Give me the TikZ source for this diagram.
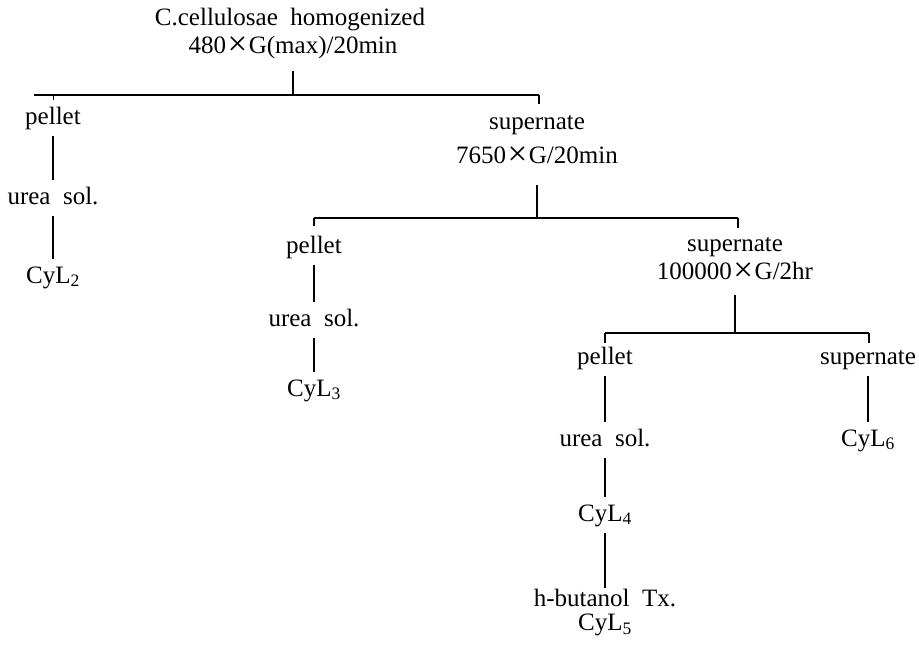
\documentclass[tikz,border=0pt]{standalone}
\usepackage{fontspec}
\usepackage{graphicx}
\setmainfont{Liberation Serif}
\newcommand{\bigx}{\hspace{0.06em}\raisebox{-0.1em}{\scalebox{1.4}{×}}\hspace{0.06em}}
\begin{document}
\begin{tikzpicture}[x=1pt,y=-1pt,
  lbl/.style={font=\fontsize{25}{30}\selectfont, inner xsep=0pt, inner ysep=7pt, text height=17pt, text depth=5pt},
  lbl2/.style={font=\fontsize{25}{24}\selectfont, inner xsep=0pt, inner ysep=1pt, align=center, anchor=north},
  ln/.style={line width=1.6pt, line cap=butt},
  bar/.style={line width=1.8pt}]
\useasboundingbox (0,0) rectangle (919,646);
% level 0
\node[lbl] (top1) at (290,19) {C.cellulosae\ \ homogenized};
\node[lbl] (top2) at (293,47) {480\bigx G(max)/20min};
\coordinate (b1L) at (34,95);
\coordinate (b1C) at (293,95);
\coordinate (b1R) at (539,95);
\coordinate (b1Rt) at (539,104);
\coordinate (b1Lt) at (53,100);
\coordinate (b1Lb) at (53,95);
\draw[ln, shorten <=6pt] (top2.south) -- (b1C);
\draw[bar] (b1L) -- (b1R);
\draw[ln] (b1R) -- (b1Rt);
\draw[line width=1pt] (b1Lb) -- (b1Lt);
% left branch
\node[lbl] (p1) at (53,118) {pellet};
\node[lbl] (u1) at (53,198) {urea\ \ sol.};
\node[lbl] (c2) at (53,277) {CyL\textsubscript{2}};
\draw[ln] (p1.south) -- (u1.north);
\draw[ln] (u1.south) -- (c2.north);
% supernate 1
\node[lbl] (s1) at (537,123) {supernate};
\node[lbl] (s1b) at (537,157) {7650\bigx G/20min};
\coordinate (b2L) at (314,218);
\coordinate (b2C) at (537,218);
\coordinate (b2R) at (738,218);
\coordinate (b2Lt) at (314,226);
\coordinate (b2Rt) at (738,228);
\draw[ln, shorten <=10pt] (s1b.south) -- (b2C);
\draw[bar] (b2L) -- (b2R);
\draw[ln] (b2L) -- (b2Lt);
\draw[ln] (b2R) -- (b2Rt);
% middle branch
\node[lbl] (p2) at (314,247) {pellet};
\node[lbl] (u2) at (314,320) {urea\ \ sol.};
\node[lbl] (c3) at (314,390) {CyL\textsubscript{3}};
\draw[ln] (p2.south) -- (u2.north);
\draw[ln] (u2.south) -- (c3.north);
% supernate 2
\node[lbl] (s2) at (735,245) {supernate};
\node[lbl] (s2b) at (735,273) {100000\bigx G/2hr};
\coordinate (b3L) at (605,333);
\coordinate (b3C) at (735,333);
\coordinate (b3R) at (869,333);
\coordinate (b3Lt) at (605,343);
\coordinate (b3Rt) at (869,343);
\draw[ln, shorten <=4pt] (s2b.south) -- (b3C);
\draw[bar] (b3L) -- (b3R);
\draw[ln] (b3L) -- (b3Lt);
\draw[ln] (b3R) -- (b3Rt);
% right-lower branch
\node[lbl] (p3) at (605,358) {pellet};
\node[lbl] (u3) at (605,440) {urea\ \ sol.};
\node[lbl] (c4) at (605,515) {CyL\textsubscript{4}};
\node[lbl2] (hb) at (605,588) {h-butanol\ \ Tx.\\CyL\textsubscript{5}};
\draw[ln] (p3.south) -- (u3.north);
\draw[ln] (u3.south) -- (c4.north);
\draw[ln] (c4.south) -- (hb.north);
\node[lbl] (s3) at (868,358) {supernate};
\node[lbl] (c6) at (868,440) {CyL\textsubscript{6}};
\draw[ln] (s3.south) -- (c6.north);
\end{tikzpicture}
\end{document}
